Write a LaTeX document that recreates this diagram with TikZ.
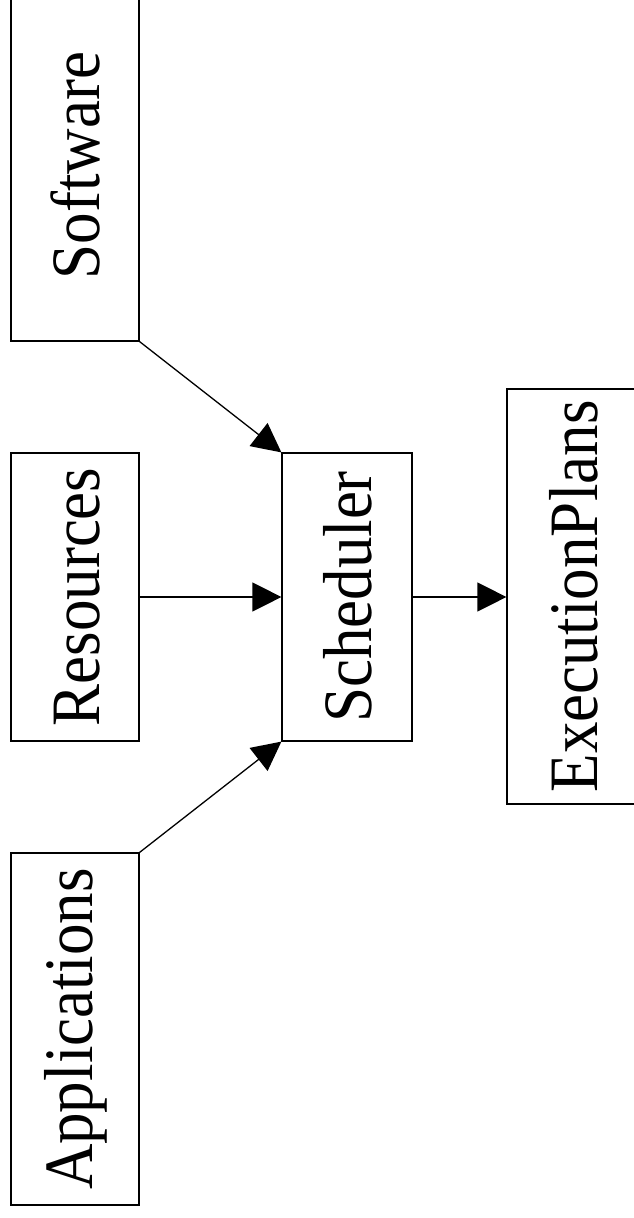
\documentclass[tikz,border=0pt]{standalone}
\usepackage{fontspec}
\setmainfont{Liberation Serif}
\usetikzlibrary{arrows.meta}
\newcommand{\mytxt}[1]{\rotatebox{90}{\rule{0pt}{0.8em}\scalebox{1}[1.1]{#1}}}
\tikzset{
  box/.style={draw, line width=1.2pt, inner sep=0pt, minimum width=128pt,
    font=\fontsize{63}{70}\selectfont},
  conn/.style={line width=1.3pt, -{Triangle[length=29pt,width=29pt]}}
}
\begin{document}
\begin{tikzpicture}[x=1pt,y=-1pt]
\useasboundingbox (0,0) rectangle (634,1218);
\node[box, minimum height=351pt] (soft) at (75,165.5) {\mytxt{Software}};
\node[box, minimum height=288pt] (res) at (75,597) {\mytxt{Resources}};
\node[box, minimum height=352pt] (app) at (75,1029) {\mytxt{Applications}};
\node[box, minimum width=130pt, minimum height=288pt] (sched) at (347,597) {\mytxt{Scheduler}};
\node[box, minimum width=132pt, minimum height=415pt] (exec) at (573,596.5) {\mytxt{ExecutionPlans}};
\draw[conn] (soft.south east) -- (sched.north west);
\draw[conn] (res.east) -- (sched.west);
\draw[conn] (app.north east) -- (sched.south west);
\draw[conn] (sched.east) -- (sched.east -| exec.west);
\end{tikzpicture}
\end{document}
